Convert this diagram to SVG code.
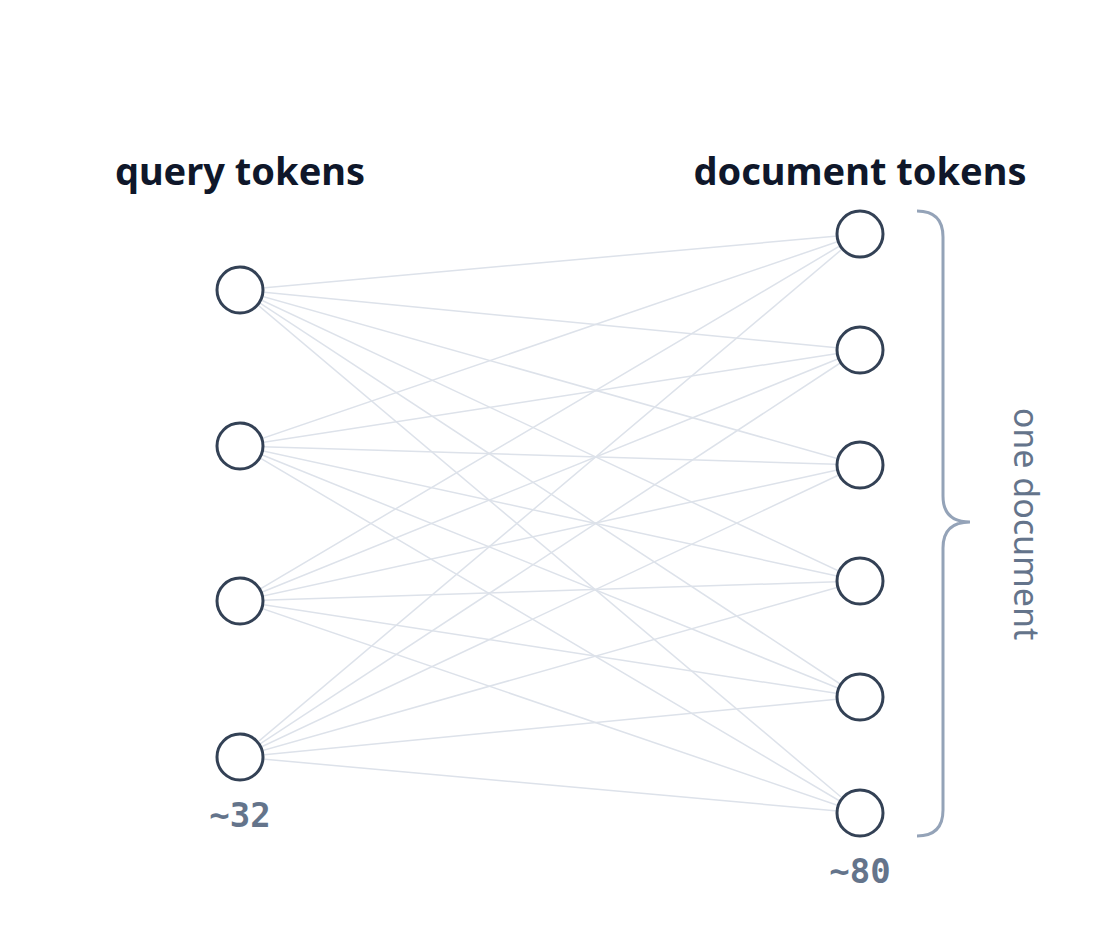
<svg xmlns="http://www.w3.org/2000/svg" width="1120" height="940" viewBox="0 0 1120 940">
<style>
.t{font-family:"Noto Sans","Open Sans",sans-serif;font-weight:700;font-size:38px;fill:#0f172a}
.n{fill:#fff;stroke:#334155;stroke-width:3}
.e line{stroke:#dde2ea;stroke-width:1.5}
.m{font-family:"DejaVu Sans Mono","Liberation Mono",monospace;font-size:34px;font-weight:600;fill:#64748b}
</style>
<rect width="1120" height="940" fill="#fff"/>
<text class="t" x="240" y="185" text-anchor="middle">query tokens</text>
<text class="t" x="860" y="185" text-anchor="middle">document tokens</text>
<g id="edges" class="e">
<line x1="240" y1="290" x2="860" y2="234"/><line x1="240" y1="290" x2="860" y2="350"/><line x1="240" y1="290" x2="860" y2="465"/><line x1="240" y1="290" x2="860" y2="581"/><line x1="240" y1="290" x2="860" y2="697"/><line x1="240" y1="290" x2="860" y2="813"/>
<line x1="240" y1="446" x2="860" y2="234"/><line x1="240" y1="446" x2="860" y2="350"/><line x1="240" y1="446" x2="860" y2="465"/><line x1="240" y1="446" x2="860" y2="581"/><line x1="240" y1="446" x2="860" y2="697"/><line x1="240" y1="446" x2="860" y2="813"/>
<line x1="240" y1="601" x2="860" y2="234"/><line x1="240" y1="601" x2="860" y2="350"/><line x1="240" y1="601" x2="860" y2="465"/><line x1="240" y1="601" x2="860" y2="581"/><line x1="240" y1="601" x2="860" y2="697"/><line x1="240" y1="601" x2="860" y2="813"/>
<line x1="240" y1="757" x2="860" y2="234"/><line x1="240" y1="757" x2="860" y2="350"/><line x1="240" y1="757" x2="860" y2="465"/><line x1="240" y1="757" x2="860" y2="581"/><line x1="240" y1="757" x2="860" y2="697"/><line x1="240" y1="757" x2="860" y2="813"/>
</g>
<g id="q1"><circle class="n" cx="240" cy="290" r="23"/></g>
<g id="q2"><circle class="n" cx="240" cy="446" r="23"/></g>
<g id="q3"><circle class="n" cx="240" cy="601" r="23"/></g>
<g id="q4"><circle class="n" cx="240" cy="757" r="23"/></g>
<g id="d1"><circle class="n" cx="860" cy="234" r="23"/></g>
<g id="d2"><circle class="n" cx="860" cy="350" r="23"/></g>
<g id="d3"><circle class="n" cx="860" cy="465" r="23"/></g>
<g id="d4"><circle class="n" cx="860" cy="581" r="23"/></g>
<g id="d5"><circle class="n" cx="860" cy="697" r="23"/></g>
<g id="d6"><circle class="n" cx="860" cy="813" r="23"/></g>
<text class="m" x="240" y="827" text-anchor="middle">~32</text>
<text class="m" x="860" y="883" text-anchor="middle">~80</text>
<path d="M917 211 Q943 211 943 237 L943 496 Q943 522 970 522 Q943 522 943 548 L943 810 Q943 836 917 836" fill="none" stroke="#94a3b8" stroke-width="3"/>
<text x="1027" y="524" transform="rotate(90 1027 524)" text-anchor="middle" dominant-baseline="central" font-family="Noto Sans,Open Sans,sans-serif" font-weight="400" font-size="34" fill="#64748b">one document</text>
</svg>
